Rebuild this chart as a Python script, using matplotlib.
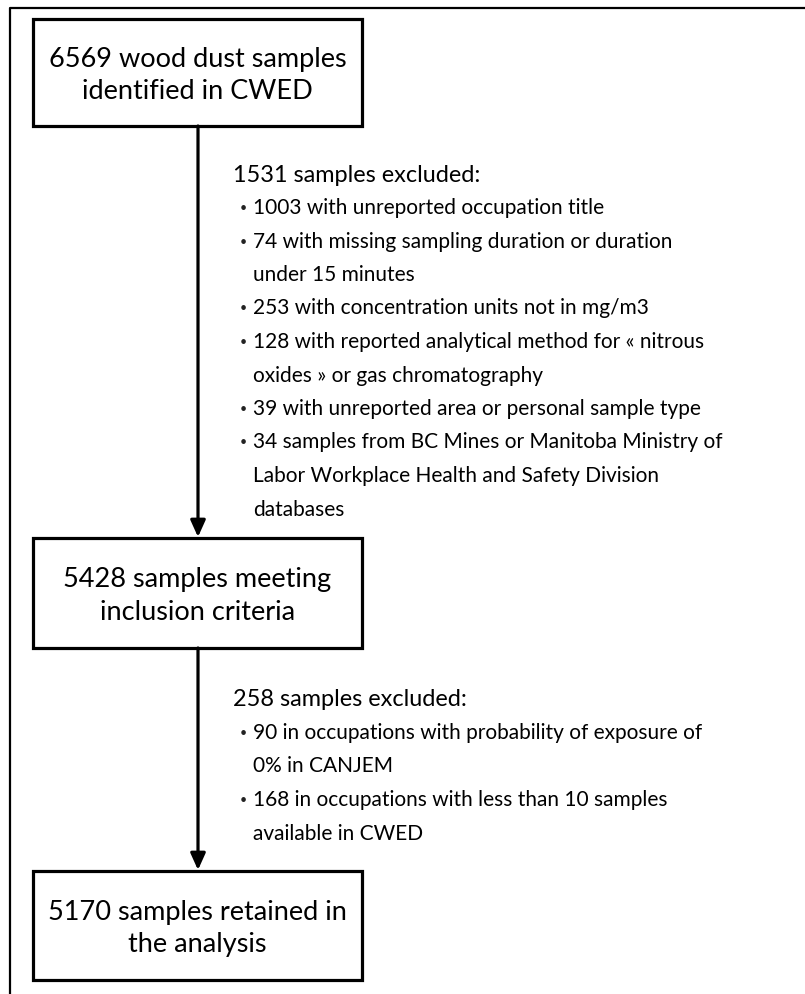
import matplotlib.pyplot as plt
from matplotlib.patches import Rectangle

plt.rcParams['font.family'] = ['Lato', 'DejaVu Sans']

# box texts (top to bottom)
box_texts = [
    "6569 wood dust samples\nidentified in CWED",
    "5428 samples meeting\ninclusion criteria",
    "5170 samples retained in\nthe analysis",
]

# exclusion blocks: header + bullets (each bullet may wrap)
excl_headers = ["1531 samples excluded:", "258 samples excluded:"]
excl_bullets = [
    [
        ["1003 with unreported occupation title"],
        ["74 with missing sampling duration or duration", "under 15 minutes"],
        ["253 with concentration units not in mg/m3"],
        ["128 with reported analytical method for \u00ab nitrous", "oxides \u00bb or gas chromatography"],
        ["39 with unreported area or personal sample type"],
        ["34 samples from BC Mines or Manitoba Ministry of",
         "Labor Workplace Health and Safety Division", "databases"],
    ],
    [
        ["90 in occupations with probability of exposure of", "0% in CANJEM"],
        ["168 in occupations with less than 10 samples", "available in CWED"],
    ],
]

W, H = 805, 995
fig = plt.figure(figsize=(W / 100, H / 100), dpi=100)
ax = fig.add_axes([0, 0, 1, 1])
ax.set_xlim(0, W)
ax.set_ylim(H, 0)
ax.axis('off')

# outer frame (left + top)
ax.plot([10, 10, W], [H, 9, 9], color='black', lw=1.6, solid_capstyle='butt')

# boxes
box_x0, box_x1 = 33, 362
box_y = [(20, 127), (539, 649), (872, 981)]
for (y0, y1), txt in zip(box_y, box_texts):
    ax.add_patch(Rectangle((box_x0, y0), box_x1 - box_x0, y1 - y0,
                           fill=False, edgecolor='black', lw=2.3))
    ax.text((box_x0 + box_x1) / 2, (y0 + y1) / 2 + 2, txt, ha='center', va='center',
            fontsize=19.5, linespacing=1.38, color='black')

# arrows between boxes
cx = 198
for i in range(len(box_y) - 1):
    ax.annotate('', xy=(cx, box_y[i + 1][0] - 1), xytext=(cx, box_y[i][1]),
                arrowprops=dict(arrowstyle='-|>,head_length=1.0,head_width=0.45',
                                color='black', lw=2.3, shrinkA=0, shrinkB=0))

# exclusion texts
header_y = [175, 700]
line_step = 33.5
text_x, bullet_x = 253, 243
for hy, head, bullets in zip(header_y, excl_headers, excl_bullets):
    ax.text(233, hy, head, ha='left', va='center', fontsize=16.9, color='black')
    y = hy + 33
    for b in bullets:
        ax.text(bullet_x, y, '\u2022', ha='center', va='center', fontsize=9, color='#222222')
        for line in b:
            ax.text(text_x, y, line, ha='left', va='center', fontsize=15, color='black')
            y += line_step

fig.savefig('out.png', dpi=100)
